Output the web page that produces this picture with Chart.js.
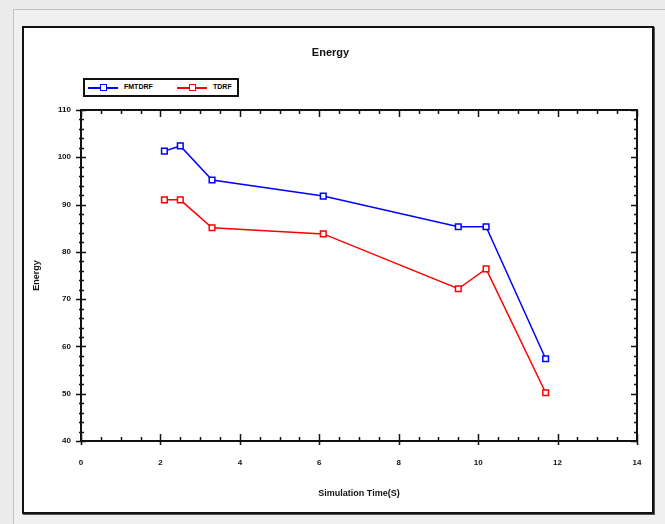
<!DOCTYPE html>
<html>
<head>
<meta charset="utf-8">
<script src="https://cdn.jsdelivr.net/npm/chart.js@4/dist/chart.umd.min.js"></script>
<style>
  body { margin: 0; background: #ebebeb; width: 665px; height: 524px; overflow: hidden; position: relative; font-family: "Liberation Sans", Arial, sans-serif; }
  #panel { position: absolute; left: 13px; top: 9px; width: 660px; height: 530px; background: #f0f0f0; border-left: 1px solid #c4c4c4; border-top: 1px solid #c4c4c4; }
  #frame { position: absolute; left: 22px; top: 26px; width: 628px; height: 484px; border: 2px solid #111; background: #fff; box-shadow: 1px 1px 0 #555; }
  #legend { position: absolute; left: 83px; top: 78px; width: 152px; height: 15px; border: 2px solid #111; background: #fff; font: bold 7px "Liberation Sans Narrow", "Liberation Sans", sans-serif; }
  .item { position: absolute; top: 0; height: 15px; }
  .ln { position: absolute; top: 7px; width: 30px; height: 2px; }
  .mk { position: absolute; top: 4px; left: 12px; width: 5px; height: 5px; border: 1.5px solid; background: #fff; }
  .tx { position: absolute; top: 3px; left: 36px; white-space: nowrap; }
</style>
</head>
<body>
<div id="panel"></div>
<div id="frame"><canvas id="energyChart" width="628" height="484"></canvas></div>
<div id="legend"></div>
<script>
var seriesNames = ["FMTDRF", "TDRF"];
var seriesColors = ["#0000ff", "#ff0000"];
var simTime = [2.1, 2.5, 3.3, 6.1, 9.5, 10.2, 11.7];
var energyFmtdrf = [101.3, 102.4, 95.2, 91.8, 85.3, 85.3, 57.4];
var energyTdrf = [91.0, 91.0, 85.1, 83.8, 72.2, 76.4, 50.2];
var xTicks = [0, 2, 4, 6, 8, 10, 12, 14];
var yTicks = [40, 50, 60, 70, 80, 90, 100, 110];

function toPoints(ys) {
  return simTime.map(function(t, i) { return { x: t, y: ys[i] }; });
}

// html legend, line + square marker like the original
var legend = document.getElementById("legend");
var legendLeft = [3, 92];
seriesNames.forEach(function(name, i) {
  var item = document.createElement("div");
  item.className = "item";
  item.style.left = legendLeft[i] + "px";
  item.innerHTML = '<div class="ln" style="background:' + seriesColors[i] + '"></div>' +
    '<div class="mk" style="border-color:' + seriesColors[i] + '"></div>' +
    '<span class="tx">' + name + '</span>';
  legend.appendChild(item);
});

// plot frame with inward ticks on all four sides
var boxTicks = {
  id: "boxTicks",
  afterDraw: function(chart) {
    var ctx = chart.ctx;
    var a = chart.chartArea;
    var xs = chart.scales.x, ys = chart.scales.y;
    ctx.save();
    ctx.strokeStyle = "#111";
    ctx.lineWidth = 2;
    ctx.strokeRect(a.left, a.top, a.right - a.left, a.bottom - a.top);
    ctx.lineWidth = 1.5;
    ctx.beginPath();
    for (var v = 0; v <= 14; v += 0.5) {
      var px = Math.round(xs.getPixelForValue(v)) + 0.5;
      var major = v % 2 === 0;
      ctx.moveTo(px, a.bottom + (major ? 4 : 0));
      ctx.lineTo(px, a.bottom - (major ? 7 : 4));
      ctx.moveTo(px, a.top);
      ctx.lineTo(px, a.top + (major ? 7 : 4));
    }
    for (var w = 40; w <= 110; w += 2) {
      var py = Math.round(ys.getPixelForValue(w)) + 0.5;
      var maj = w % 10 === 0;
      ctx.moveTo(a.left - (maj ? 5 : 2), py);
      ctx.lineTo(a.left + (maj ? 5 : 3), py);
      ctx.moveTo(a.right, py);
      ctx.lineTo(a.right - (maj ? 6 : 3), py);
    }
    ctx.stroke();
    ctx.restore();
  }
};

var tickFont = { family: "'Liberation Sans Narrow', 'Liberation Sans', sans-serif", size: 8, weight: "bold" };

var datasets = [energyFmtdrf, energyTdrf].map(function(ys, i) {
  return {
    label: seriesNames[i],
    data: toPoints(ys),
    borderColor: seriesColors[i],
    backgroundColor: "#ffffff",
    borderWidth: 1.5,
    pointStyle: "rect",
    pointRadius: 4,
    pointBorderWidth: 1.5,
    pointBackgroundColor: "#ffffff",
    pointBorderColor: seriesColors[i],
    showLine: true,
    tension: 0
  };
});

var energyChart = new Chart(document.getElementById("energyChart"), {
  type: "scatter",
  data: { datasets: datasets },
  plugins: [boxTicks],
  options: {
    responsive: false,
    animation: false,
    layout: { padding: { left: 0, right: 15, top: 0, bottom: 0 } },
    plugins: {
      legend: { display: false },
      tooltip: { enabled: false },
      title: {
        display: true,
        text: "Energy",
        color: "#111",
        font: { family: "'Liberation Sans Narrow', 'Liberation Sans', sans-serif", size: 11, weight: "bold" },
        padding: { top: 18, bottom: 50.8 }
      }
    },
    scales: {
      x: {
        type: "linear",
        min: 0,
        max: 14,
        afterBuildTicks: function(s) { s.ticks = xTicks.map(function(v) { return { value: v }; }); },
        afterFit: function(s) { s.height = 71; s.paddingLeft = 0; s.paddingRight = 0; },
        grid: { display: false, drawTicks: false },
        border: { display: false },
        ticks: { color: "#111", font: tickFont, padding: 17, maxRotation: 0 },
        title: {
          display: true,
          text: "Simulation Time(S)",
          color: "#111",
          font: { family: "'Liberation Sans Narrow', 'Liberation Sans', sans-serif", size: 9, weight: "bold" },
          padding: { top: 0, bottom: 12.6 }
        }
      },
      y: {
        type: "linear",
        min: 40,
        max: 110,
        afterBuildTicks: function(s) { s.ticks = yTicks.map(function(v) { return { value: v }; }); },
        afterFit: function(s) { s.width = 57; },
        grid: { display: false, drawTicks: false },
        border: { display: false },
        ticks: { color: "#111", font: tickFont, padding: 10 },
        title: {
          display: true,
          text: "Energy",
          color: "#111",
          font: { family: "'Liberation Sans Narrow', 'Liberation Sans', sans-serif", size: 9, weight: "bold" },
          padding: { top: 7.6, bottom: 0 }
        }
      }
    }
  }
});
</script>
</body>
</html>
